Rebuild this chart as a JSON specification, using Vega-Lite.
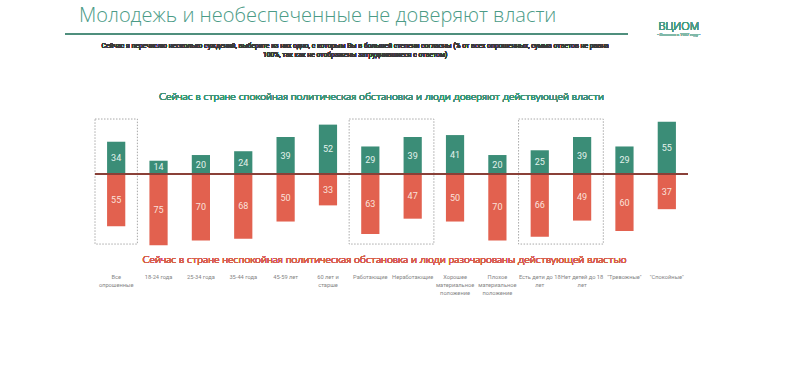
{
  "$schema": "https://vega.github.io/schema/vega-lite/v6.json",
  "width": 593,
  "height": 234,
  "padding": {"left": 64, "top": 5, "right": 0, "bottom": 0},
  "background": "white",
  "config": {"view": {"stroke": null}, "font": "Roboto", "text": {"font": "Roboto", "fontWeight": "normal"}},
  "title": {"text": "Молодежь и необеспеченные не доверяют власти", "anchor": "start", "frame": "group", "fontSize": 20, "font": "Open Sans", "fontWeight": 300, "color": "#4b9b86", "dx": -16, "offset": -5},
  "datasets": {
    "main": [
      {"g": "Все опрошенные", "trust": 34, "distrust": 55},
      {"g": "18-24 года", "trust": 14, "distrust": 75},
      {"g": "25-34 года", "trust": 20, "distrust": 70},
      {"g": "35-44 года", "trust": 24, "distrust": 68},
      {"g": "45-59 лет", "trust": 39, "distrust": 50},
      {"g": "60 лет и старше", "trust": 52, "distrust": 33},
      {"g": "Работающие", "trust": 29, "distrust": 63},
      {"g": "Неработающие", "trust": 39, "distrust": 47},
      {"g": "Хорошее материальное положение", "trust": 41, "distrust": 50},
      {"g": "Плохое материальное положение", "trust": 20, "distrust": 70},
      {"g": "Есть дети до 18 лет", "trust": 25, "distrust": 66},
      {"g": "Нет детей до 18 лет", "trust": 39, "distrust": 49},
      {"g": "\"Тревожные\"", "trust": 29, "distrust": 60},
      {"g": "\"Спокойные\"", "trust": 55, "distrust": 37}
    ],
    "boxes": [
      {"from": "Все опрошенные", "to": "Все опрошенные"},
      {"from": "Работающие", "to": "Неработающие"},
      {"from": "Есть дети до 18 лет", "to": "Нет детей до 18 лет"}
    ]
  },
  "data": {"name": "main"},
  "resolve": {"scale": {"y": "independent", "x": "shared"}, "axis": {"y": "independent", "x": "independent"}},
  "layer": [
    {
      "mark": {"type": "bar", "color": "#3b8d77", "width": {"band": 0.43}},
      "encoding": {
        "x": {"field": "g", "type": "nominal", "sort": null,
          "scale": {"type": "band", "domain": ["Все опрошенные", "18-24 года", "25-34 года", "35-44 года", "45-59 лет", "60 лет и старше", "Работающие", "Неработающие", "Хорошее материальное положение", "Плохое материальное положение", "Есть дети до 18 лет", "Нет детей до 18 лет", "\"Тревожные\"", "\"Спокойные\""], "paddingInner": 0, "paddingOuter": 0},
          "axis": {"title": null, "domain": false, "ticks": false, "labelAngle": 0, "labelFont": "Roboto", "labelFontSize": 5.7, "labelColor": "#858585", "labelPadding": 9, "labelLineHeight": 8, "labelBaseline": "top", "labelLimit": 0,
            "labelExpr": "datum.label == 'Все опрошенные' ? ['Все','опрошенные'] : datum.label == '60 лет и старше' ? ['60 лет и','старше'] : datum.label == 'Хорошее материальное положение' ? ['Хорошее','материальное','положение'] : datum.label == 'Плохое материальное положение' ? ['Плохое','материальное','положение'] : datum.label == 'Есть дети до 18 лет' ? ['Есть дети до 18','лет'] : datum.label == 'Нет детей до 18 лет' ? ['Нет детей до 18','лет'] : datum.label"}},
        "y": {"field": "trust", "type": "quantitative", "scale": {"domain": [-94.7, 151.6], "nice": false, "zero": false}, "axis": null},
        "y2": {"datum": 0}
      }
    },
    {
      "mark": {"type": "bar", "color": "#e2614f", "width": {"band": 0.43}},
      "encoding": {
        "x": {"field": "g", "type": "nominal", "sort": null, "axis": null},
        "y": {"field": "distrust", "type": "quantitative", "scale": {"domain": [-151.6, 94.7], "nice": false, "zero": false, "reverse": true}, "axis": null},
        "y2": {"datum": 0}
      }
    },
    {
      "mark": {"type": "text", "color": "#e3f2ec", "fontSize": 9, "baseline": "middle"},
      "encoding": {
        "x": {"field": "g", "type": "nominal", "sort": null, "axis": null},
        "y": {"field": "trust", "type": "quantitative", "scale": {"domain": [-189.4, 303.2], "nice": false, "zero": false}, "axis": null},
        "text": {"field": "trust", "type": "quantitative"}
      }
    },
    {
      "mark": {"type": "text", "color": "#fbe2dc", "fontSize": 9, "baseline": "middle"},
      "encoding": {
        "x": {"field": "g", "type": "nominal", "sort": null, "axis": null},
        "y": {"field": "distrust", "type": "quantitative", "scale": {"domain": [-303.2, 189.4], "nice": false, "zero": false, "reverse": true}, "axis": null},
        "text": {"field": "distrust", "type": "quantitative"}
      }
    },
    {
      "layer": [
        {
          "data": {"name": "boxes"},
          "mark": {"type": "rect", "fill": null, "stroke": "#a8a8a8", "strokeWidth": 1, "strokeDash": [1.5, 1.5], "x2Offset": 21.2},
          "encoding": {
            "x": {"field": "from", "type": "nominal", "bandPosition": 0, "axis": null},
            "x2": {"field": "to"},
            "y": {"datum": 57.9, "type": "quantitative", "scale": {"domain": [-94.7, 151.6], "nice": false, "zero": false}, "axis": null},
            "y2": {"datum": -73.7}
          }
        },
        {
          "mark": {"type": "rule", "color": "#8a4038", "strokeWidth": 1.2},
          "encoding": {"y": {"datum": 0, "type": "quantitative", "axis": null}}
        },
        {
          "mark": {"type": "rule", "color": "#4f8f7e", "strokeWidth": 1.5, "xOffset": -30, "x2Offset": 3},
          "encoding": {
            "x": {"datum": "Все опрошенные", "bandPosition": 0, "axis": null},
            "x2": {"datum": "\"Тревожные\""},
            "y": {"datum": 147.4, "type": "quantitative", "axis": null}
          }
        },
        {
          "mark": {"type": "text", "fontSize": 6.8, "color": "#3a3a3a", "align": "center", "baseline": "middle", "lineHeight": 9, "dx": 6},
          "encoding": {
            "x": {"datum": "60 лет и старше", "bandPosition": 1, "axis": null},
            "y": {"datum": 134.5, "type": "quantitative", "axis": null},
            "text": {"value": ["Сейчас я перечислю несколько суждений, выберите из них одно, с которым Вы в большей степени согласны (% от всех опрошенных, сумма ответов не равна", "100%, так как не отображены затруднившиеся с ответом)"]}
          }
        },
        {
          "mark": {"type": "text", "font": "Lato", "fontWeight": 300, "fontSize": 10.5, "color": "#3f9479", "align": "center", "baseline": "middle", "dx": -10},
          "encoding": {
            "x": {"datum": "Работающие", "bandPosition": 1, "axis": null},
            "y": {"datum": 81.1, "type": "quantitative", "axis": null},
            "text": {"value": "Сейчас в стране спокойная политическая обстановка и люди доверяют действующей власти"}
          }
        },
        {
          "mark": {"type": "text", "font": "Lato", "fontWeight": 300, "fontSize": 10.5, "color": "#d8604e", "align": "center", "baseline": "middle", "dx": -7},
          "encoding": {
            "x": {"datum": "Работающие", "bandPosition": 1, "axis": null},
            "y": {"datum": -90.5, "type": "quantitative", "axis": null},
            "text": {"value": "Сейчас в стране неспокойная политическая обстановка и люди разочарованы действующей властью"}
          }
        },
        {
          "mark": {"type": "text", "font": "Open Sans", "fontWeight": 300, "fontSize": 11, "color": "#4b9b86", "align": "center", "baseline": "middle", "dx": 12},
          "encoding": {
            "x": {"datum": "\"Спокойные\"", "bandPosition": 0.5, "axis": null},
            "y": {"datum": 155, "type": "quantitative", "axis": null},
            "text": {"value": "ВЦИОМ"}
          }
        },
        {
          "mark": {"type": "text", "fontSize": 4, "color": "#7fb8a8", "align": "center", "baseline": "middle", "dx": 12},
          "encoding": {
            "x": {"datum": "\"Спокойные\"", "bandPosition": 0.5, "axis": null},
            "y": {"datum": 146, "type": "quantitative", "axis": null},
            "text": {"value": "• Основан в 1987 году •"}
          }
        }
      ]
    }
  ]
}
